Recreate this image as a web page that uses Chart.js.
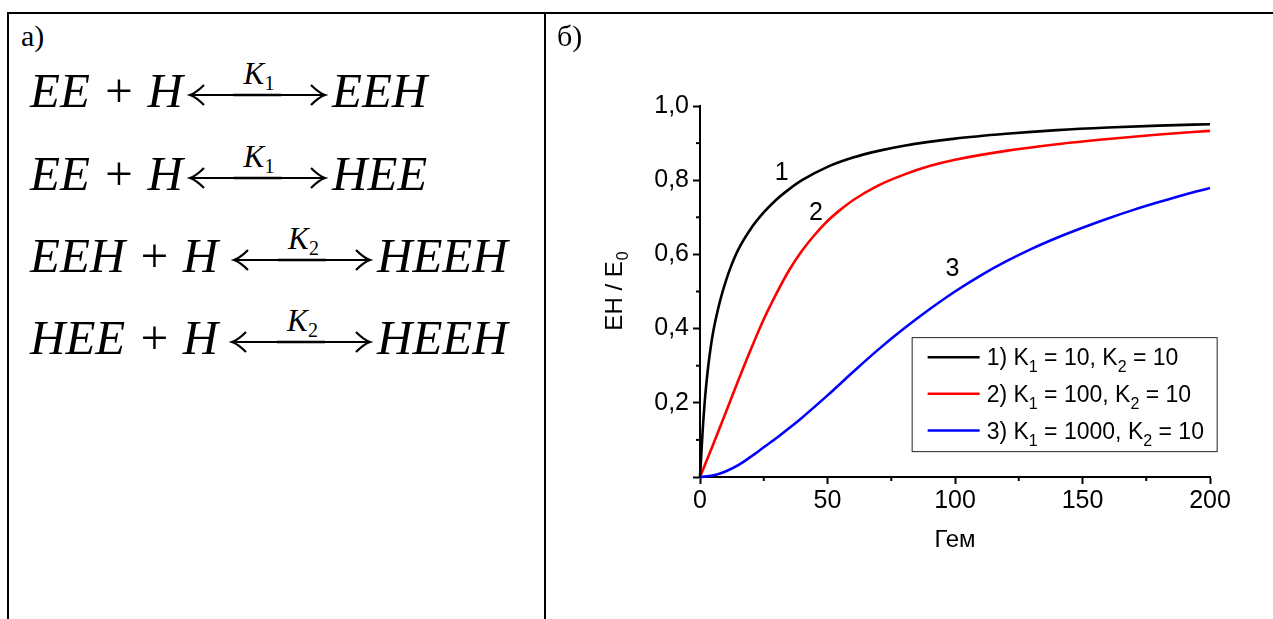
<!DOCTYPE html>
<html>
<head>
<meta charset="utf-8">
<script src="https://cdn.jsdelivr.net/npm/chart.js@4/dist/chart.umd.min.js"></script>
<style>
  html, body { margin: 0; padding: 0; background: #fff; }
  body { width: 1273px; height: 619px; position: relative; overflow: hidden; }
  .rule { position: absolute; background: #000; }
  #scheme { position: absolute; left: 0; top: 0; }
  #plotWrap { position: absolute; left: 546px; top: 14px; width: 727px; height: 605px; }
</style>
</head>
<body>
<!-- table frame -->
<div class="rule" style="left:7px; top:12px; width:1266px; height:2px;"></div>
<div class="rule" style="left:7px; top:12px; width:2px; height:607px;"></div>
<div class="rule" style="left:544px; top:12px; width:2px; height:607px;"></div>

<!-- reaction scheme -->
<svg id="scheme" width="546" height="619" xmlns="http://www.w3.org/2000/svg"
     font-family="'Liberation Serif','Times New Roman',serif">
  <text x="21" y="46" font-size="30">a)</text>
  <g id="eqs" font-style="italic" font-size="49" fill="#000"></g>
</svg>

<div id="plotWrap"><canvas id="plot" width="727" height="605"></canvas></div>

<svg style="position:absolute;left:546px;top:0" width="60" height="60" font-family="'Liberation Serif','Times New Roman',serif">
  <text x="11" y="46" font-size="30">б)</text>
</svg>

<script>
// ---- reaction scheme ----
const reactions = [
  { left: 'EE + H',  right: 'EEH',  k: '1', y: 107, a0: 190, a1: 325, r: 332 },
  { left: 'EE + H',  right: 'HEE',  k: '1', y: 190, a0: 190, a1: 325, r: 332 },
  { left: 'EEH + H', right: 'HEEH', k: '2', y: 272, a0: 234, a1: 370, r: 377 },
  { left: 'HEE + H', right: 'HEEH', k: '2', y: 354, a0: 232, a1: 370, r: 377 }
];
const NS = 'http://www.w3.org/2000/svg';
const eqs = document.getElementById('eqs');
function el(tag, attrs, text) {
  const e = document.createElementNS(NS, tag);
  for (const k in attrs) e.setAttribute(k, attrs[k]);
  if (text !== undefined) e.textContent = text;
  return e;
}
reactions.forEach(r => {
  eqs.appendChild(el('text', { x: 30, y: r.y, 'xml:space': 'preserve' }, r.left));
  eqs.appendChild(el('text', { x: r.r, y: r.y }, r.right));
  const ay = r.y - 12;
  const mid = (r.a0 + r.a1) / 2;
  // long double arrow with open heads
  eqs.appendChild(el('path', {
    d: `M${r.a0 + 1} ${ay} L${r.a1 - 1} ${ay}`,
    stroke: '#000', 'stroke-width': 1.8, fill: 'none'
  }));
  eqs.appendChild(el('path', {
    d: `M${mid - 24} ${ay} L${mid + 24} ${ay}`,
    stroke: '#000', 'stroke-width': 2.6, fill: 'none'
  }));
  eqs.appendChild(el('path', {
    d: `M${r.a0 + 14} ${ay - 10} Q${r.a0 + 6} ${ay - 2} ${r.a0} ${ay} Q${r.a0 + 6} ${ay + 2} ${r.a0 + 14} ${ay + 10}`,
    stroke: '#000', 'stroke-width': 2.2, fill: 'none'
  }));
  eqs.appendChild(el('path', {
    d: `M${r.a1 - 14} ${ay - 10} Q${r.a1 - 6} ${ay - 2} ${r.a1} ${ay} Q${r.a1 - 6} ${ay + 2} ${r.a1 - 14} ${ay + 10}`,
    stroke: '#000', 'stroke-width': 2.2, fill: 'none'
  }));
  eqs.appendChild(el('text', { x: mid - 14, y: ay - 11, 'font-size': 31 }, 'K'));
  eqs.appendChild(el('text', { x: mid + 7, y: ay - 5, 'font-size': 20, 'font-style': 'normal' }, r.k));
});

// ---- plot data ----
const hemeBlack = [0, 1, 2, 3, 4, 5, 6, 8, 10, 12, 15, 20, 25, 30, 35, 40, 50, 60, 70, 80, 100, 120, 140, 160, 180, 200];
const ratioK1_10 = [0, 0.12, 0.215, 0.285, 0.34, 0.385, 0.42, 0.478, 0.525, 0.565, 0.613, 0.67, 0.713, 0.748, 0.776, 0.80, 0.836, 0.861, 0.879, 0.893, 0.912, 0.925, 0.935, 0.942, 0.947, 0.951];

const hemeRed = [0, 5, 10, 15, 20, 25, 30, 35, 40, 45, 50, 55, 60, 70, 80, 90, 100, 120, 140, 160, 180, 200];
const ratioK1_100 = [0, 0.085, 0.172, 0.26, 0.345, 0.425, 0.495, 0.558, 0.61, 0.653, 0.69, 0.72, 0.746, 0.786, 0.815, 0.838, 0.855, 0.879, 0.897, 0.911, 0.923, 0.933];

const hemeBlue = [0, 5, 10, 15, 20, 25, 30, 35, 40, 50, 60, 70, 80, 90, 100, 110, 120, 130, 140, 150, 160, 170, 180, 190, 200];
const ratioK1_1000 = [0, 0.004, 0.015, 0.032, 0.055, 0.08, 0.105, 0.132, 0.16, 0.22, 0.283, 0.344, 0.40, 0.452, 0.50, 0.543, 0.581, 0.615, 0.645, 0.672, 0.697, 0.72, 0.741, 0.761, 0.779];

const seriesNames = ['1) K', '2) K', '3) K'];
const k1Values = ['10', '100', '1000'];
const k2Values = ['10', '10', '10'];
const curveTags = ['1', '2', '3'];
const curveColors = ['#000000', '#ff0000', '#0000ff'];

const xTicks = [0, 50, 100, 150, 200];
const yTicks = [0.2, 0.4, 0.6, 0.8, 1.0];

const pairs = (xs, ys) => xs.map((x, i) => ({ x, y: ys[i] }));

const FONT = "'Liberation Sans', Arial, sans-serif";

// minor ticks, axis titles, curve tags and the boxed key
const decorations = {
  id: 'decorations',
  afterDraw(chart) {
    const ctx = chart.ctx;
    const xs = chart.scales.x, ys = chart.scales.y;
    const area = chart.chartArea;
    ctx.save();
    ctx.strokeStyle = '#000';
    ctx.lineWidth = 2;
    // minor ticks
    for (let v = 25; v < 200; v += 50) {
      const px = xs.getPixelForValue(v);
      ctx.beginPath(); ctx.moveTo(px, area.bottom); ctx.lineTo(px, area.bottom + 4); ctx.stroke();
    }
    for (let v = 0.1; v < 1; v += 0.2) {
      const py = ys.getPixelForValue(v);
      ctx.beginPath(); ctx.moveTo(area.left, py); ctx.lineTo(area.left - 4, py); ctx.stroke();
    }
    ctx.fillStyle = '#000';
    // x title
    ctx.font = `24px ${FONT}`;
    ctx.textAlign = 'center';
    ctx.textBaseline = 'alphabetic';
    ctx.fillText('Гем', (area.left + area.right) / 2, area.bottom + 70);
    // y title with subscript
    ctx.save();
    ctx.translate(area.left - 87, (area.top + area.bottom) / 2);
    ctx.rotate(-Math.PI / 2);
    ctx.textAlign = 'left';
    const main = 'EH / E';
    ctx.font = `24px ${FONT}`;
    const w1 = ctx.measureText(main).width;
    ctx.font = `16px ${FONT}`;
    const w2 = ctx.measureText('0').width;
    const start = -(w1 + w2) / 2;
    ctx.font = `24px ${FONT}`;
    ctx.fillText(main, start, 9);
    ctx.font = `16px ${FONT}`;
    ctx.fillText('0', start + w1 + 1, 15);
    ctx.restore();

    // curve tags
    ctx.font = `25px ${FONT}`;
    ctx.textAlign = 'center';
    ctx.textBaseline = 'middle';
    const tagPos = [[32, 0.82], [45.5, 0.71], [99, 0.56]];
    tagPos.forEach((p, i) => {
      ctx.fillText(curveTags[i], xs.getPixelForValue(p[0]), ys.getPixelForValue(p[1]));
    });

    // key box
    const bx = xs.getPixelForValue(83), by = ys.getPixelForValue(0.377);
    const bw = 305, bh = 114;
    ctx.lineWidth = 1;
    ctx.strokeStyle = '#222';
    ctx.fillStyle = '#fff';
    ctx.fillRect(bx, by, bw, bh);
    ctx.strokeRect(bx + 0.5, by + 0.5, bw, bh);
    chart.data.datasets.forEach((ds, i) => {
      const ry = by + 20 + i * 36.7;
      ctx.strokeStyle = ds.borderColor;
      ctx.lineWidth = 2.5;
      ctx.beginPath(); ctx.moveTo(bx + 16, ry); ctx.lineTo(bx + 68, ry); ctx.stroke();
      ctx.fillStyle = '#000';
      ctx.textAlign = 'left';
      ctx.textBaseline = 'alphabetic';
      let x = bx + 75;
      const base = ry + 8;
      const put = (t, size, dy) => {
        ctx.font = `${size}px ${FONT}`;
        ctx.fillText(t, x, base + dy);
        x += ctx.measureText(t).width;
      };
      put(seriesNames[i], 23, 0);
      put('1', 16, 7);
      put(' = ' + k1Values[i] + ', K', 23, 0);
      put('2', 16, 7);
      put(' = ' + k2Values[i], 23, 0);
    });
    ctx.restore();
  }
};

const lineStyle = (color) => ({
  borderColor: color, backgroundColor: color, borderWidth: 2.6,
  pointRadius: 0, fill: false, cubicInterpolationMode: 'monotone', clip: 6
});

new Chart(document.getElementById('plot'), {
  type: 'line',
  data: {
    datasets: [
      { label: '1', data: pairs(hemeBlack, ratioK1_10), ...lineStyle(curveColors[0]) },
      { label: '2', data: pairs(hemeRed, ratioK1_100), ...lineStyle(curveColors[1]) },
      { label: '3', data: pairs(hemeBlue, ratioK1_1000), ...lineStyle(curveColors[2]) }
    ]
  },
  options: {
    responsive: false,
    animation: false,
    layout: { padding: { left: 54, right: 63, top: 92, bottom: 62 } },
    plugins: { legend: { display: false }, tooltip: { enabled: false } },
    scales: {
      x: {
        type: 'linear', min: 0, max: 200,
        afterFit: s => { s.height = 80; },
        afterBuildTicks: s => { s.ticks = xTicks.map(v => ({ value: v })); },
        border: { color: '#000', width: 2 },
        grid: { drawOnChartArea: false, tickLength: 7, tickColor: '#000', tickWidth: 2 },
        ticks: { color: '#000', font: { family: FONT, size: 25 }, padding: 2, maxRotation: 0,
                 callback: v => String(v) }
      },
      y: {
        type: 'linear', min: 0, max: 1,
        afterFit: s => { s.width = 100; },
        afterBuildTicks: s => { s.ticks = [0].concat(yTicks).map(v => ({ value: v })); },
        border: { color: '#000', width: 2 },
        grid: { drawOnChartArea: false, tickLength: 7, tickColor: '#000', tickWidth: 2 },
        ticks: { color: '#000', font: { family: FONT, size: 25 }, padding: 4,
                 callback: v => v === 0 ? '' : v.toFixed(1).replace('.', ',') }
      }
    }
  },
  plugins: [decorations]
});
</script>
</body>
</html>
